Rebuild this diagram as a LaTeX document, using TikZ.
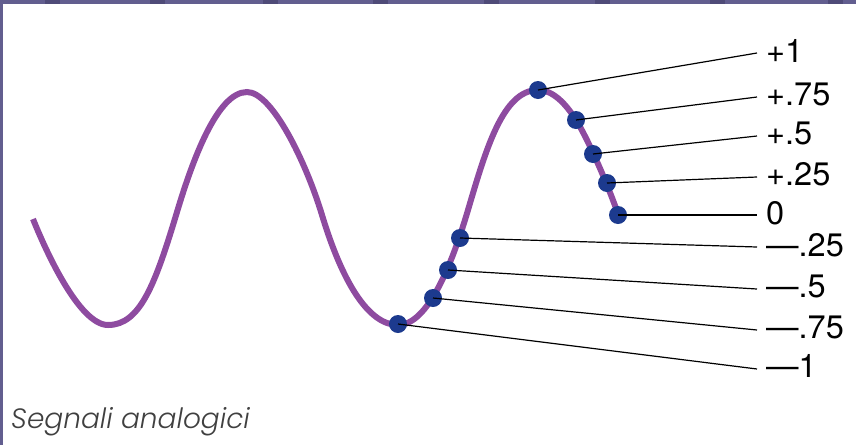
\documentclass[tikz,border=0pt]{standalone}
\usepackage{fontspec}
\setmainfont{TeX Gyre Heros}
\newfontfamily\capfont{Poppins}[UprightFont=* Light, ItalicFont=* Light Italic]
\definecolor{frame}{HTML}{625E8F}
\definecolor{framedark}{HTML}{4F4B78}
\definecolor{wave}{HTML}{8E4BA0}
\definecolor{dotc}{HTML}{1C3A8E}
\definecolor{captc}{HTML}{404040}
\begin{document}
\begin{tikzpicture}[x=1pt,y=-1pt,
  sig/.style={wave,line width=6pt},
  pt/.style={circle,fill=dotc,inner sep=0pt,minimum size=18pt},
  lead/.style={black,line width=1.2pt},
  lab/.style={anchor=west,font=\fontsize{32.5}{34}\selectfont,inner sep=0pt}]
\useasboundingbox (0,0) rectangle (856,445);
\fill[frame] (0,0) rectangle (856,4);
\foreach \x in {45,150,263,373,484,595,710,828}
  \fill[framedark] (\x,0) rectangle ++(15,4);
\fill[frame] (0,0) rectangle (3,445);
\draw[sig] (33,219) .. controls (45,249) and (79,325) .. (108,325)
  .. controls (140,325) and (155,285) .. (177,212)
  .. controls (192,162) and (217,92) .. (247,92)
  .. controls (272,92) and (306,162) .. (322,215)
  .. controls (342,281) and (368,325) .. (398,325)
  .. controls (428,325) and (452,264) .. (468,210)
  .. controls (486,149) and (503,90) .. (538,90)
  .. controls (553,90) and (566,104) .. (576,120)
  .. controls (588,139) and (608,185) .. (618,214);
\node[pt] (p1) at (538,90) {};
\node[pt] (p2) at (576,120) {};
\node[pt] (p3) at (593,154) {};
\node[pt] (p4) at (607,183) {};
\node[pt] (p5) at (618,215) {};
\node[pt] (m1) at (460,238) {};
\node[pt] (m2) at (448,270) {};
\node[pt] (m3) at (433,298) {};
\node[pt] (m4) at (398,324) {};
\coordinate (e1) at (757,53);
\coordinate (e2) at (757,97);
\coordinate (e3) at (757,136);
\coordinate (e4) at (757,177);
\coordinate (e5) at (757,215);
\coordinate (f1) at (757,247);
\coordinate (f2) at (757,289);
\coordinate (f3) at (757,330);
\coordinate (f4) at (757,369);
\foreach \a/\b in {p1/e1,p2/e2,p3/e3,p4/e4,p5/e5,m1/f1,m2/f2,m3/f3,m4/f4}
  \draw[lead] (\a.center) -- (\b);
\node[lab] (l1) at (766,51) {+1};
\node[lab] (l2) at (766,94) {+.75};
\node[lab] (l3) at (766,133) {+.5};
\node[lab] (l4) at (766,174) {+.25};
\node[lab] (l5) at (766,213) {0};
\node[lab] (k1) at (766,245) {—.25};
\node[lab] (k2) at (766,286) {—.5};
\node[lab] (k3) at (766,327) {—.75};
\node[lab] (k4) at (766,366) {—1};
\node[anchor=base west,inner sep=0pt,text=captc,font=\capfont\itshape\fontsize{28}{30}\selectfont] (cap) at (11,428) {Segnali analogici};
\end{tikzpicture}
\end{document}
